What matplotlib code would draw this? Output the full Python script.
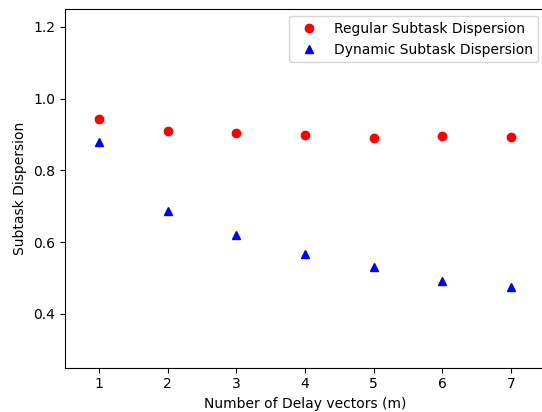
import numpy as np
import matplotlib
matplotlib.use('Agg')
import matplotlib.pyplot as plt

# data
delay_vectors = [1, 2, 3, 4, 5, 6, 7]
regular_dispersion = [0.944, 0.909, 0.904, 0.899, 0.891, 0.896, 0.894]
dynamic_dispersion = [0.879, 0.688, 0.620, 0.568, 0.529, 0.492, 0.474]

fig = plt.figure(figsize=(5.42, 4.12), dpi=100)
# axes run slightly past the right edge, as in the reference
ax = fig.add_axes([0.1194, 0.108, 0.8867, 0.870])

ax.plot(delay_vectors, regular_dispersion, 'ro', label='Regular Subtask Dispersion')
ax.plot(delay_vectors, dynamic_dispersion, 'b^', label='Dynamic Subtask Dispersion')

ax.set_xlim(0.5, 7.5)
ax.set_ylim(0.25, 1.25)
ax.set_xticks(delay_vectors)
ax.set_yticks([0.4, 0.6, 0.8, 1.0, 1.2])
ax.set_xlabel('Number of Delay vectors (m)')
ax.set_ylabel('Subtask Dispersion')
ax.legend(loc='upper right')

fig.savefig('out.png', dpi=100)
